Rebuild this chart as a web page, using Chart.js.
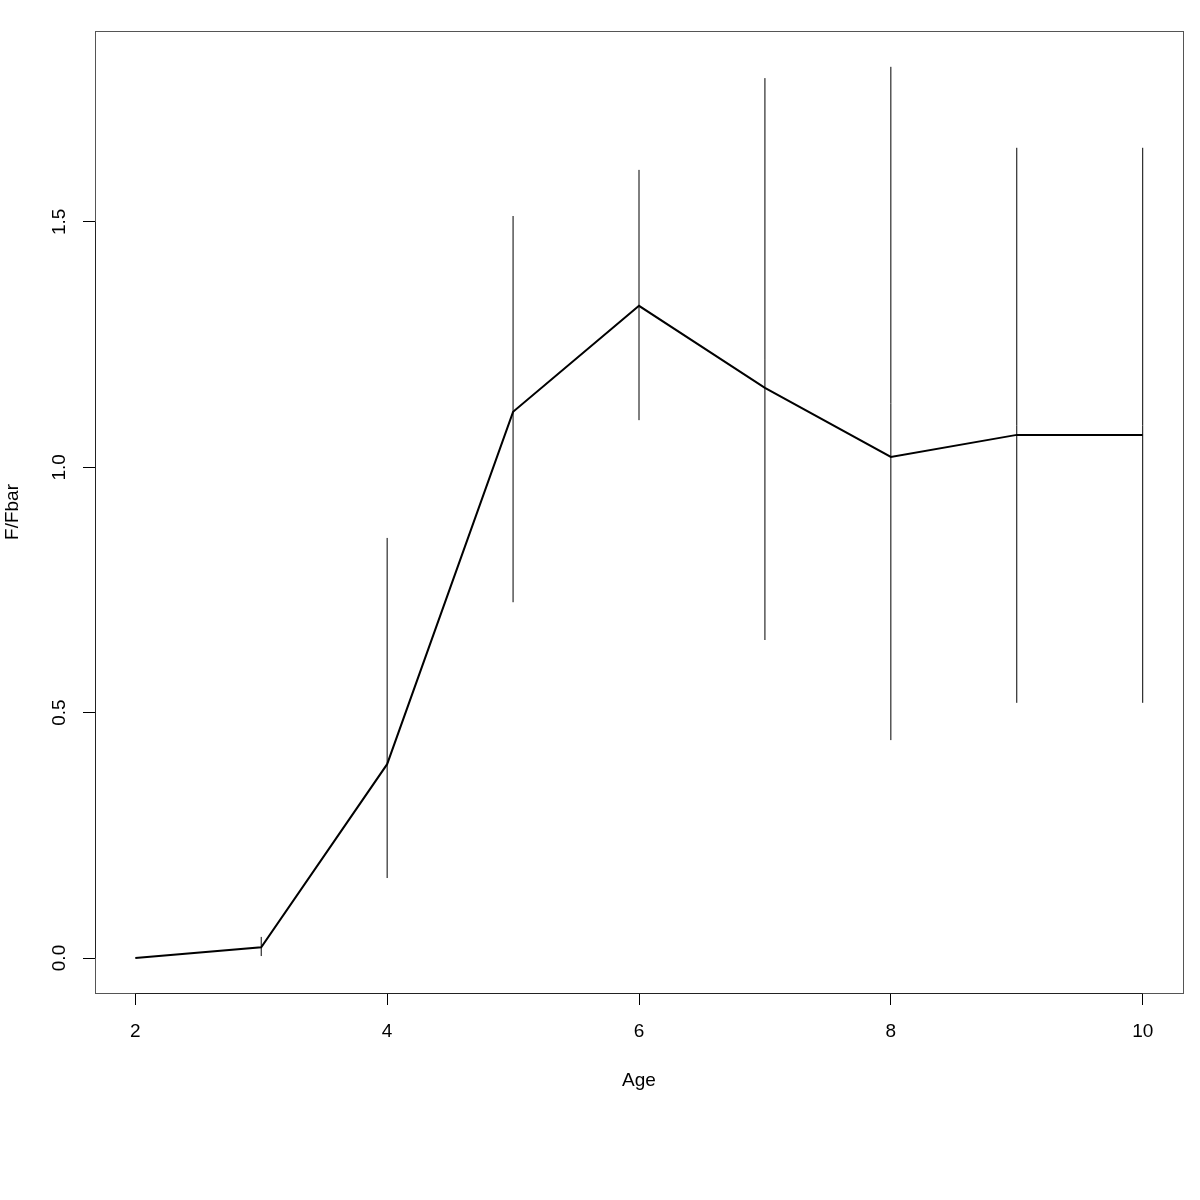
<!DOCTYPE html>
<html>
<head>
<meta charset="utf-8">
<script src="https://cdn.jsdelivr.net/npm/chart.js@4.4.1/dist/chart.umd.min.js"></script>
<style>
  html, body { margin: 0; padding: 0; background: #fff; }
  #wrap { width: 1200px; height: 1200px; }
</style>
</head>
<body>
<div id="wrap"><canvas id="chart" width="1200" height="1200"></canvas></div>
<script>
// F/Fbar by age, with upper/lower bounds
const ages = [2, 3, 4, 5, 6, 7, 8, 9, 10];
const ratio = [0.0, 0.022, 0.395, 1.113, 1.329, 1.162, 1.021, 1.066, 1.066];
const lower = [null, 0.004, 0.163, 0.725, 1.096, 0.648, 0.444, 0.520, 0.520];
const upper = [null, 0.043, 0.856, 1.512, 1.606, 1.793, 1.816, 1.651, 1.651];

const xTicks = [2, 4, 6, 8, 10];
const yTicks = [0.0, 0.5, 1.0, 1.5];

const FONT = "'Liberation Sans', Arial, Helvetica, sans-serif";

// line points
const linePoints = ages.map((a, i) => ({ x: a, y: ratio[i] }));

// error bar segments, separated by gaps
const barPoints = [];
ages.forEach((a, i) => {
  if (lower[i] === null) return;
  barPoints.push({ x: a, y: lower[i] });
  barPoints.push({ x: a, y: upper[i] });
  barPoints.push({ x: a, y: null });
});

// box around the plot region plus axis lines from first to last tick, like R
const boxPlugin = {
  id: "box",
  afterDraw(chart) {
    const { ctx, chartArea, scales } = chart;
    const left = Math.round(chartArea.left) + 0.5;
    const top = Math.round(chartArea.top) + 0.5;
    const right = Math.round(chartArea.right) + 0.5;
    const bottom = Math.round(chartArea.bottom) + 0.5;
    ctx.save();
    ctx.lineWidth = 1;
    ctx.strokeStyle = "#555";
    ctx.strokeRect(left, top, right - left, bottom - top);

    ctx.strokeStyle = "#222";
    ctx.beginPath();
    ctx.moveTo(scales.x.getPixelForValue(xTicks[0]), bottom);
    ctx.lineTo(scales.x.getPixelForValue(xTicks[xTicks.length - 1]), bottom);
    ctx.moveTo(left, scales.y.getPixelForValue(yTicks[0]));
    ctx.lineTo(left, scales.y.getPixelForValue(yTicks[yTicks.length - 1]));
    ctx.stroke();
    ctx.restore();
  },
};

const ctx = document.getElementById("chart").getContext("2d");

new Chart(ctx, {
  type: "line",
  data: {
    datasets: [
      {
        label: "bounds",
        data: barPoints,
        borderColor: "#000",
        borderWidth: 1,
        pointRadius: 0,
        spanGaps: false,
        tension: 0,
      },
      {
        label: "F/Fbar",
        data: linePoints,
        borderColor: "#000",
        borderWidth: 2,
        pointRadius: 0,
        tension: 0,
      },
    ],
  },
  options: {
    responsive: false,
    animation: false,
    layout: {
      padding: { top: 31, right: 17, left: 0, bottom: 0 },
    },
    plugins: {
      legend: { display: false },
      tooltip: { enabled: false },
    },
    scales: {
      x: {
        type: "linear",
        min: 1.68,
        max: 10.32,
        afterFit: (scale) => {
          scale.height = 207;
        },
        afterBuildTicks: (scale) => {
          scale.ticks = xTicks.map((v) => ({ value: v }));
        },
        grid: {
          drawOnChartArea: false,
          drawTicks: true,
          tickLength: 12,
          tickColor: "#000",
        },
        border: { display: false },
        ticks: {
          color: "#000",
          padding: 15,
          font: { family: FONT, size: 19 },
          maxRotation: 0,
        },
        title: {
          display: true,
          text: "Age",
          color: "#000",
          font: { family: FONT, size: 19 },
          padding: { bottom: 108 },
        },
      },
      y: {
        type: "linear",
        min: -0.0713,
        max: 1.889,
        afterFit: (scale) => {
          scale.width = 95;
        },
        afterBuildTicks: (scale) => {
          scale.ticks = yTicks.map((v) => ({ value: v }));
        },
        grid: {
          drawOnChartArea: false,
          drawTicks: true,
          tickLength: 12,
          tickColor: "#000",
        },
        border: { display: false },
        ticks: {
          color: "#000",
          padding: 10,
          crossAlign: "center",
          minRotation: 90,
          maxRotation: 90,
          font: { family: FONT, size: 19 },
          callback: (v) => v.toFixed(1),
        },
        title: {
          display: true,
          text: "F/Fbar",
          color: "#000",
          font: { family: FONT, size: 19 },
          padding: { top: 1 },
        },
      },
    },
  },
  plugins: [boxPlugin],
});
</script>
</body>
</html>
